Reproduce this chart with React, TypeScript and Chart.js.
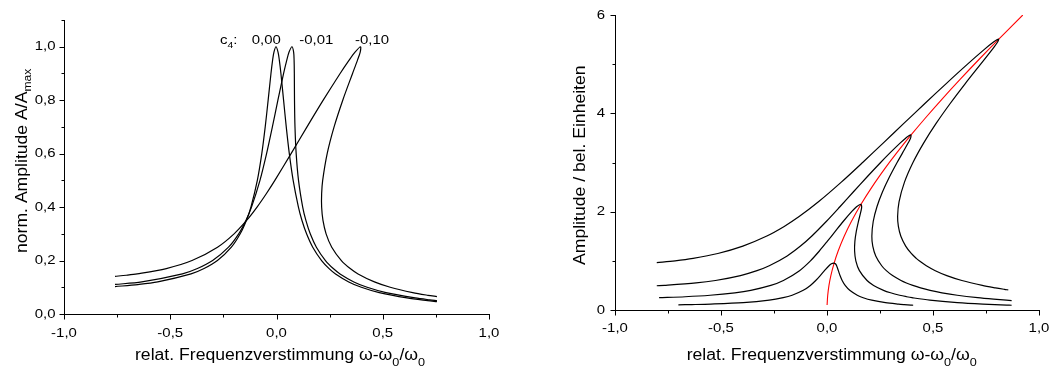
import React, { useEffect, useRef } from "react";
import { Chart, registerables } from "chart.js";
Chart.register(...registerables);

const FONT = '"Liberation Sans", Arial, Helvetica, sans-serif';

// ---------------- Left panel: normalized amplitude A/Amax ----------------
const c4_000_x = [-0.76, -0.6523, -0.5588, -0.4021, -0.3409, -0.278, -0.2123, -0.1708, -0.1419, -0.1204, -0.0902, -0.0692, -0.0531, -0.0393, -0.026, -0.0183, -0.012, -0.0024, 0.0072, 0.0133, 0.0208, 0.0333, 0.0459, 0.0603, 0.0784, 0.1032, 0.1199, 0.1415, 0.1705, 0.2122, 0.2475, 0.2779, 0.3401, 0.3993, 0.4836, 0.6141, 0.7112, 0.755];
const c4_000_y = [0.1025, 0.11, 0.12, 0.15, 0.17, 0.2, 0.25, 0.3, 0.35, 0.4, 0.5, 0.6, 0.7, 0.8, 0.9, 0.95, 0.98, 1.0, 0.98, 0.95, 0.9, 0.8, 0.7, 0.6, 0.5, 0.4, 0.35, 0.3, 0.25, 0.2, 0.17, 0.15, 0.12, 0.1, 0.08, 0.06, 0.05, 0.0463];

const c4_001_x = [-0.76, -0.6339, -0.4428, -0.3722, -0.3005, -0.2258, -0.178, -0.1439, -0.1176, -0.0778, -0.0467, -0.0194, 0.0066, 0.0334, 0.0484, 0.0591, 0.0728, 0.0806, 0.0828, 0.0839, 0.0847, 0.087, 0.0926, 0.1036, 0.1233, 0.1383, 0.1588, 0.1877, 0.2304, 0.2671, 0.2989, 0.3642, 0.4266, 0.5153, 0.6526, 0.7207, 0.755];
const c4_001_y = [0.1105, 0.12, 0.15, 0.17, 0.2, 0.25, 0.3, 0.35, 0.4, 0.5, 0.6, 0.7, 0.8, 0.9, 0.95, 0.98, 1.0, 0.98, 0.95, 0.9, 0.8, 0.7, 0.6, 0.5, 0.4, 0.35, 0.3, 0.25, 0.2, 0.17, 0.15, 0.12, 0.1, 0.08, 0.06, 0.053, 0.0502];

const c4_010_x = [-0.76, -0.7069, -0.6556, -0.5186, -0.3975, -0.2775, -0.1996, -0.1407, -0.0916, -0.0481, -0.0077, 0.0686, 0.1435, 0.2198, 0.2994, 0.3418, 0.3695, 0.3953, 0.3939, 0.3812, 0.3579, 0.3118, 0.271, 0.2385, 0.2173, 0.2124, 0.2124, 0.2187, 0.2334, 0.26, 0.3053, 0.3468, 0.3838, 0.4608, 0.5351, 0.6409, 0.7127, 0.755];
const c4_010_y = [0.141, 0.145, 0.15, 0.17, 0.2, 0.25, 0.3, 0.35, 0.4, 0.45, 0.5, 0.6, 0.7, 0.8, 0.9, 0.95, 0.98, 1.0, 0.98, 0.95, 0.9, 0.8, 0.7, 0.6, 0.5, 0.45, 0.4, 0.35, 0.3, 0.25, 0.2, 0.17, 0.15, 0.12, 0.1, 0.08, 0.07, 0.0652];

const leftXTicks = [-1, -0.5, 0, 0.5, 1];
const leftXLabels = ["-1,0", "-0,5", "0,0", "0,5", "1,0"];
const xMinorTicks = [-0.75, -0.25, 0.25, 0.75];
const leftYTicks = [0, 0.2, 0.4, 0.6, 0.8, 1.0];
const leftYLabels = ["0,0", "0,2", "0,4", "0,6", "0,8", "1,0"];
const leftYMinor = [0.1, 0.3, 0.5, 0.7, 0.9, 1.1];
const c4Labels = ["0,00", "-0,01", "-0,10"];

// ---------------- Right panel: amplitude / arbitrary units ----------------
const backbone_x = [0.0004, 0.0034, 0.0093, 0.0182, 0.0326, 0.0526, 0.0811, 0.1149, 0.1605, 0.2119, 0.277, 0.3297, 0.3966, 0.4631, 0.5449, 0.63, 0.7178, 0.8103, 0.9235];
const backbone_y = [0.1, 0.3, 0.5, 0.7, 0.94, 1.2, 1.5, 1.8, 2.15, 2.5, 2.9, 3.2, 3.56, 3.9, 4.3, 4.7, 5.1, 5.51, 6.0];

const curveA_x = [-0.701, -0.6378, -0.5479, -0.395, -0.2723, -0.2066, -0.1645, -0.1119, -0.0784, -0.0532, -0.0319, -0.0119, 0.0095, 0.021, 0.0313, 0.0396, 0.0454, 0.0537, 0.0615, 0.0715, 0.0857, 0.1072, 0.1428, 0.1707, 0.2113, 0.2759, 0.3373, 0.3643, 0.3959, 0.4065];
const curveA_y = [0.105, 0.11, 0.12, 0.15, 0.2, 0.25, 0.3, 0.4, 0.5, 0.6, 0.7, 0.8, 0.9, 0.94, 0.955, 0.94, 0.9, 0.8, 0.7, 0.6, 0.5, 0.4, 0.3, 0.25, 0.2, 0.15, 0.12, 0.11, 0.1, 0.097];

const curveB_x = [-0.792, -0.6688, -0.5515, -0.4344, -0.3596, -0.2652, -0.2056, -0.1297, -0.078, -0.036, 0.002, 0.0389, 0.0762, 0.1162, 0.1393, 0.1585, 0.1636, 0.1596, 0.1482, 0.1382, 0.1316, 0.1302, 0.136, 0.1529, 0.1889, 0.2199, 0.2667, 0.2997, 0.3427, 0.3755, 0.4011, 0.4848, 0.6148, 0.7352, 0.8478, 0.871];
const curveB_y = [0.252, 0.27, 0.3, 0.35, 0.4, 0.5, 0.6, 0.8, 1.0, 1.2, 1.4, 1.6, 1.8, 2.0, 2.1, 2.15, 2.1, 2.0, 1.8, 1.6, 1.4, 1.2, 1.0, 0.8, 0.6, 0.5, 0.4, 0.35, 0.3, 0.27, 0.25, 0.2, 0.15, 0.12, 0.1, 0.0965];

const curveC_x = [-0.803, -0.7666, -0.6171, -0.5261, -0.4082, -0.3302, -0.2723, -0.1879, -0.125, -0.0726, -0.0035, 0.0609, 0.1239, 0.1875, 0.2529, 0.2982, 0.3459, 0.3723, 0.395, 0.3946, 0.3831, 0.357, 0.3307, 0.2938, 0.2615, 0.2356, 0.218, 0.2116, 0.2159, 0.2299, 0.258, 0.2798, 0.3092, 0.3491, 0.3745, 0.4049, 0.4414, 0.4863, 0.5424, 0.6145, 0.7107, 0.7858, 0.846, 0.871];
const curveC_y = [0.493, 0.5, 0.55, 0.6, 0.7, 0.8, 0.9, 1.1, 1.3, 1.5, 1.8, 2.1, 2.4, 2.7, 3.0, 3.2, 3.4, 3.5, 3.56, 3.5, 3.4, 3.2, 3.0, 2.7, 2.4, 2.1, 1.8, 1.5, 1.3, 1.1, 0.9, 0.8, 0.7, 0.6, 0.55, 0.5, 0.45, 0.4, 0.35, 0.3, 0.25, 0.22, 0.2, 0.1925];

const curveD_x = [-0.803, -0.7164, -0.6315, -0.5149, -0.3969, -0.2864, -0.2019, -0.1315, -0.0403, 0.0675, 0.1681, 0.2661, 0.3636, 0.4616, 0.5611, 0.6629, 0.7424, 0.7855, 0.8089, 0.8048, 0.7798, 0.7248, 0.6514, 0.5811, 0.5155, 0.4564, 0.4055, 0.3655, 0.3398, 0.3331, 0.3367, 0.3484, 0.3711, 0.3975, 0.4211, 0.4351, 0.4685, 0.5108, 0.5651, 0.6362, 0.7324, 0.7943, 0.8372, 0.855];
const curveD_y = [0.965, 1.0, 1.05, 1.15, 1.3, 1.5, 1.7, 1.9, 2.2, 2.6, 3.0, 3.4, 3.8, 4.2, 4.6, 5.0, 5.3, 5.45, 5.51, 5.45, 5.3, 5.0, 4.6, 4.2, 3.8, 3.4, 3.0, 2.6, 2.2, 1.9, 1.7, 1.5, 1.3, 1.15, 1.05, 1.0, 0.9, 0.8, 0.7, 0.6, 0.5, 0.45, 0.42, 0.409];

const rightXTicks = [-1, -0.5, 0, 0.5, 1];
const rightXLabels = ["-1,0", "-0,5", "0,0", "0,5", "1,0"];
const rightYTicks = [0, 2, 4, 6];
const rightYLabels = ["0", "2", "4", "6"];
const rightYMinor = [1, 3, 5];

// ---------------- helpers ----------------
type Seg = { t: string; sub?: boolean };

function pts(xs: number[], ys: number[]) {
  return xs.map((x, i) => ({ x, y: ys[i] }));
}

function line(xs: number[], ys: number[], color = "#000", width = 1.2) {
  return {
    data: pts(xs, ys),
    showLine: true,
    borderColor: color,
    borderWidth: width,
    pointRadius: 0,
    tension: 0.3,
    fill: false,
  };
}

function drawRich(ctx: CanvasRenderingContext2D, segs: Seg[], x: number, y: number, size: number, sx: number, rotate: boolean, subShift: number, subSize: number) {
  ctx.save();
  ctx.translate(x, y);
  if (rotate) ctx.rotate(-Math.PI / 2);
  ctx.scale(sx, 1);
  ctx.fillStyle = "#000";
  ctx.textAlign = "left";
  ctx.textBaseline = "alphabetic";
  let cx = 0;
  for (const s of segs) {
    const fs = s.sub ? subSize : size;
    ctx.font = `${fs}px ${FONT}`;
    ctx.fillText(s.t, cx, s.sub ? subShift : 0);
    cx += ctx.measureText(s.t).width;
  }
  ctx.restore();
}

function drawLabel(ctx: CanvasRenderingContext2D, text: string, x: number, y: number, align: "left" | "right" | "center", baseline: CanvasTextBaseline, size: number, sx: number) {
  ctx.save();
  ctx.translate(x, y);
  ctx.scale(sx, 1);
  ctx.font = `${size}px ${FONT}`;
  ctx.fillStyle = "#000";
  ctx.textAlign = align;
  ctx.textBaseline = baseline;
  ctx.fillText(text, 0, 0);
  ctx.restore();
}

type Decor = {
  xMajor: number[]; xLabels: string[]; xMinor: number[];
  yMajor: number[]; yLabels: string[]; yMinor: number[];
  yLabelRight: number; xLabelBaseline: number;
  xTitle: { x: number; y: number; segs: Seg[] };
  yTitle: { x: number; y: number; segs: Seg[] };
  notes?: { x: number; y: number; segs: Seg[] }[];
};

function decorPlugin(d: Decor) {
  return {
    id: "decor",
    afterDraw(chart: any) {
      const ctx: CanvasRenderingContext2D = chart.ctx;
      const xs = chart.scales.x;
      const ys = chart.scales.y;
      const area = chart.chartArea;
      const bottom = Math.round(area.bottom) + 0.5;
      const left = Math.round(area.left) + 0.5;
      ctx.save();
      ctx.strokeStyle = "#000";
      ctx.lineWidth = 1;
      ctx.beginPath();
      for (const v of d.xMajor) {
        const p = Math.round(xs.getPixelForValue(v)) + 0.5;
        ctx.moveTo(p, bottom); ctx.lineTo(p, bottom + 5);
      }
      for (const v of d.xMinor) {
        const p = Math.round(xs.getPixelForValue(v)) + 0.5;
        ctx.moveTo(p, bottom); ctx.lineTo(p, bottom + 3);
      }
      for (const v of d.yMajor) {
        const p = Math.round(ys.getPixelForValue(v)) + 0.5;
        ctx.moveTo(left, p); ctx.lineTo(left - 5, p);
      }
      for (const v of d.yMinor) {
        const p = Math.round(ys.getPixelForValue(v)) + 0.5;
        ctx.moveTo(left, p); ctx.lineTo(left - 3, p);
      }
      ctx.stroke();
      ctx.restore();

      d.xMajor.forEach((v, i) => {
        drawLabel(ctx, d.xLabels[i], xs.getPixelForValue(v), d.xLabelBaseline, "center", "alphabetic", 13, 1.15);
      });
      d.yMajor.forEach((v, i) => {
        drawLabel(ctx, d.yLabels[i], d.yLabelRight, ys.getPixelForValue(v), "right", "middle", 13, 1.15);
      });
      drawRich(ctx, d.xTitle.segs, d.xTitle.x, d.xTitle.y, 16, 1.1, false, 6, 11.5);
      drawRich(ctx, d.yTitle.segs, d.yTitle.x, d.yTitle.y, 16, 1.1, true, 4, 11);
      (d.notes || []).forEach((n) => drawRich(ctx, n.segs, n.x, n.y, 13, 1.15, false, 4.3, 9));
    },
  };
}

function makeOptions(xmin: number, xmax: number, ymin: number, ymax: number, yWidth: number, xHeight: number, padRight: number, padTop: number) {
  return {
    animation: false as const,
    responsive: false,
    devicePixelRatio: 1,
    events: [],
    layout: { padding: { left: 0, right: padRight, top: padTop, bottom: 0 } },
    plugins: { legend: { display: false }, tooltip: { enabled: false } },
    scales: {
      x: {
        type: "linear" as const,
        min: xmin, max: xmax,
        ticks: { display: false },
        grid: { display: false },
        border: { display: true, color: "#000", width: 1 },
        afterFit: (s: any) => { s.height = xHeight; },
      },
      y: {
        type: "linear" as const,
        min: ymin, max: ymax,
        ticks: { display: false },
        grid: { display: false },
        border: { display: true, color: "#000", width: 1 },
        afterFit: (s: any) => { s.width = yWidth; },
      },
    },
  };
}

const xTitleSegs: Seg[] = [
  { t: "relat. Frequenzverstimmung ω-ω" }, { t: "0", sub: true }, { t: "/ω" }, { t: "0", sub: true },
];

function LeftChart() {
  const ref = useRef<HTMLCanvasElement>(null);
  useEffect(() => {
    const chart = new Chart(ref.current!, {
      type: "scatter",
      data: {
        datasets: [
          line(c4_000_x, c4_000_y),
          line(c4_001_x, c4_001_y),
          line(c4_010_x, c4_010_y),
        ] as any,
      },
      options: makeOptions(-1, 1, 0, 1.1, 64, 54, 36, 20) as any,
      plugins: [
        decorPlugin({
          xMajor: leftXTicks, xLabels: leftXLabels, xMinor: xMinorTicks,
          yMajor: leftYTicks, yLabels: leftYLabels, yMinor: leftYMinor,
          yLabelRight: 55.5, xLabelBaseline: 337.3,
          xTitle: { x: 135, y: 360, segs: xTitleSegs },
          yTitle: { x: 26.7, y: 253, segs: [{ t: "norm. Amplitude A/A" }, { t: "max", sub: true }] },
          notes: [
            { x: 220, y: 44, segs: [{ t: "c" }, { t: "4", sub: true }, { t: ":" }] },
            { x: 251.7, y: 44, segs: [{ t: c4Labels[0] }] },
            { x: 299.3, y: 44, segs: [{ t: c4Labels[1] }] },
            { x: 355, y: 44, segs: [{ t: c4Labels[2] }] },
          ],
        }),
      ],
    });
    return () => chart.destroy();
  }, []);
  return <canvas ref={ref} width={525} height={368} style={{ position: "absolute", left: 0, top: 0 }} />;
}

function RightChart() {
  const ref = useRef<HTMLCanvasElement>(null);
  useEffect(() => {
    const chart = new Chart(ref.current!, {
      type: "scatter",
      data: {
        datasets: [
          line(curveA_x, curveA_y),
          line(curveB_x, curveB_y),
          line(curveC_x, curveC_y),
          line(curveD_x, curveD_y),
          line(backbone_x, backbone_y, "#ff0000", 1.1),
        ] as any,
      },
      options: makeOptions(-1, 1, 0, 6, 90, 58, 10, 15) as any,
      plugins: [
        decorPlugin({
          xMajor: rightXTicks, xLabels: rightXLabels, xMinor: xMinorTicks,
          yMajor: rightYTicks, yLabels: rightYLabels, yMinor: rightYMinor,
          yLabelRight: 80, xLabelBaseline: 331.7,
          xTitle: { x: 161.7, y: 360, segs: xTitleSegs },
          yTitle: { x: 60, y: 265, segs: [{ t: "Amplitude / bel. Einheiten" }] },
        }),
      ],
    });
    return () => chart.destroy();
  }, []);
  return <canvas ref={ref} width={524} height={368} style={{ position: "absolute", left: 525, top: 0 }} />;
}

export default function App() {
  return (
    <div style={{ position: "absolute", left: 0, top: 0, width: 1049, height: 368, background: "#fff", overflow: "hidden" }}>
      <LeftChart />
      <RightChart />
    </div>
  );
}
